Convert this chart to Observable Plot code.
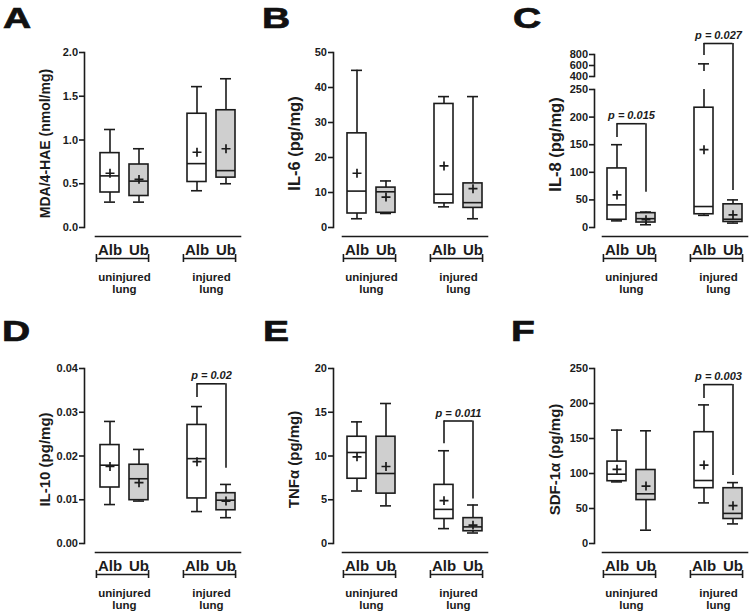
<!DOCTYPE html>
<html><head><meta charset="utf-8">
<script src="https://cdn.jsdelivr.net/npm/d3@7"></script>
<script src="https://cdn.jsdelivr.net/npm/@observablehq/plot@0.6"></script>
<style>
body{margin:0;background:#fff;}
#fig{position:relative;width:750px;height:613px;overflow:hidden;background:#fff;font-family:"Liberation Sans",Arial,sans-serif;}
.panel{position:absolute;}
.letter{position:absolute;font-weight:bold;font-size:30px;line-height:30px;color:#111;font-family:"Liberation Sans",Arial,sans-serif;transform:scaleX(1.3);transform-origin:left top;-webkit-text-stroke:0.7px #111;}
</style></head><body><div id="fig"></div>
<script>
// ---------- DATA ----------
const groupNames = ["uninjured", "injured"];
const treatmentNames = ["Alb", "Ub"];
const panelLetters = ["A", "B", "C", "D", "E", "F"];
const yLabels = ["MDA/4-HAE (nmol/mg)", "IL-6 (pg/mg)", "IL-8 (pg/mg)", "IL-10 (pg/mg)", "TNFα (pg/mg)", "SDF-1α (pg/mg)"];

// box statistics per box: [min, q1, median, q3, max, mean]
// box order: uninjured Alb, uninjured Ub, injured Alb, injured Ub
const mdaStats  = [[0.29, 0.40, 0.59, 0.85, 1.12, 0.62], [0.29, 0.36, 0.53, 0.72, 0.90, 0.55], [0.42, 0.52, 0.73, 1.30, 1.61, 0.86], [0.50, 0.57, 0.65, 1.34, 1.70, 0.90]];
const il6Stats  = [[2.5, 4.0, 10.4, 26.9, 44.9, 15.5], [4.0, 4.2, 10.2, 11.4, 13.3, 8.7], [5.9, 6.9, 9.5, 35.3, 37.4, 17.6], [2.5, 5.6, 7.1, 12.6, 37.4, 11.1]];
const il8Stats  = [[12, 14, 41, 107, 150, 59], [5, 9, 16, 26, 28, 14], [22, 24, 38, 217, 630, 141], [8, 10, 15, 42, 50, 23]];
const il10Stats = [[0.0089, 0.0128, 0.0179, 0.0225, 0.0279, 0.0176], [0.0097, 0.0099, 0.0148, 0.0180, 0.0215, 0.0139], [0.0073, 0.0103, 0.0194, 0.0271, 0.0313, 0.0187], [0.0059, 0.0076, 0.0099, 0.0115, 0.0135, 0.0097]];
const tnfStats  = [[6.0, 7.4, 10.4, 12.2, 13.9, 9.9], [4.3, 5.7, 8.0, 12.2, 16.0, 8.8], [1.7, 2.8, 3.9, 6.7, 10.6, 4.9], [1.2, 1.4, 1.9, 2.9, 4.4, 2.1]];
const sdfStats  = [[88, 89, 99, 117, 162, 106], [19, 62, 71, 105, 161, 82], [58, 79, 90, 159, 198, 112], [28, 35, 43, 79, 87, 54]];

// y-axis ticks
const mdaTicks  = [0, 0.5, 1.0, 1.5, 2.0];
const il6Ticks  = [0, 10, 20, 30, 40, 50];
const il8Ticks  = [0, 50, 100, 150, 200, 250, 400, 600, 800];
const il10Ticks = [0, 0.01, 0.02, 0.03, 0.04];
const tnfTicks  = [0, 5, 10, 15, 20];
const sdfTicks  = [0, 50, 100, 150, 200, 250];
const il8Breaks = [250, 400, 800]; // broken axis: lower segment ends at 250, upper runs 400–800

// significance brackets: bar level, Alb leg end, Ub leg end
const il8Pvalues  = [{group: "uninjured", p: "p = 0.015", top: 188, alb: 163, ub: 64}, {group: "injured", p: "p = 0.027", top: 1000, alb: 780, ub: 67}];
const il10Pvalues = [{group: "injured", p: "p = 0.02", top: 0.0365, alb: 0.0334, ub: 0.0172}];
const tnfPvalues  = [{group: "injured", p: "p = 0.011", top: 14.0, alb: 11.4, ub: 5.1}];
const sdfPvalues  = [{group: "injured", p: "p = 0.003", top: 227, alb: 207, ub: 97}];

// ---------- LAYOUT ----------
const INK = "#1b1b1b";
const UB_FILL = "#cfcfcf";
const FONT = "'Liberation Sans', Arial, Helvetica, sans-serif";
const PAD = 0.34;
const columns = [
  {left: 0, axis: 84, baseStart: 95, baseEnd: 240},
  {left: 250, axis: 333, baseStart: 342, baseEnd: 487},
  {left: 500, axis: 594, baseStart: 602, baseEnd: 747}
];
const rowTops = [0, 316];
const letterPos = [[3, 3], [262, 3], [513, 3], [2, 316], [263, 316], [511, 316]];

const boxKeys = groupNames.flatMap(g => treatmentNames.map(t => g + " " + t));
const slots = [boxKeys[0], boxKeys[1], "gap", boxKeys[2], boxKeys[3]];

function boxRows(stats) {
  return stats.map((s, i) => ({
    key: boxKeys[i], treatment: boxKeys[i].split(" ")[1],
    min: s[0], q1: s[1], median: s[2], q3: s[3], max: s[4], mean: s[5]
  }));
}
const groupRows = groupNames.map(g => ({group: g, first: g + " Alb", last: g + " Ub", label: g + "\nlung"}));

function panel(cfg) {
  const {stats, ticks, format, label, labelSize, pvals, breaks, col} = cfg;
  const c = columns[col];
  const W = 250, H = 300;
  const marginLeft = c.axis - c.left;
  const marginRight = c.left + W - c.baseEnd;
  const marginTop = breaks ? 54 : 52;
  const marginBottom = 64;
  const zeroY = 227;
  const baseY = H - marginBottom;
  const step = (c.baseEnd - c.baseStart) / slots.length;
  const bw = step * (1 - PAD);
  const rows = boxRows(stats);
  const y = breaks
    ? {type: "linear", domain: [0, breaks[0], breaks[1], breaks[2]], range: [zeroY, 89, 76, 54]}
    : {type: "linear", domain: [0, ticks[ticks.length - 1]], range: [zeroY, 52]};
  const line = {stroke: INK, strokeWidth: 1.6};
  const marks = [];
  if (breaks) {
    marks.push(Plot.frame({anchor: "left", insetTop: 89 - marginTop, insetBottom: baseY - zeroY, ...line}));
    marks.push(Plot.frame({anchor: "left", insetBottom: baseY - 76, ...line}));
  } else {
    marks.push(Plot.frame({anchor: "left", insetBottom: baseY - zeroY, ...line}));
  }
  marks.push(Plot.frame({anchor: "bottom", insetLeft: c.baseStart - c.axis, ...line}));
  marks.push(Plot.axisY({ticks, tickFormat: format, tickSize: 5, tickPadding: 1.5, fontSize: 11, fontWeight: "bold", color: INK, strokeWidth: 1.6, label: null}));
  marks.push(Plot.axisX({ticks: boxKeys, tickSize: 0, tickPadding: 8, tickFormat: k => k.split(" ")[1], fontSize: 15, fontWeight: "bold", color: INK, label: null}));
  // y label
  marks.push(Plot.text([label], {text: d => d, frameAnchor: "left", textAnchor: "middle", lineAnchor: "middle", rotate: -90, dx: -39, dy: -1, fontSize: labelSize, fontWeight: "bold", fill: INK}));
  // whiskers
  const cut = breaks ? breaks[0] : Infinity;
  marks.push(Plot.ruleX(rows, {x: "key", y1: "min", y2: "q1", ...line}));
  marks.push(Plot.ruleX(rows, {x: "key", y1: r => Math.min(r.max, cut), y2: "q3", ...line}));
  if (breaks) {
    marks.push(Plot.ruleX(rows.filter(r => r.max > cut), {x: "key", y1: "max", y2: () => breaks[1], insetBottom: 5, ...line}));
  }
  // boxes
  marks.push(Plot.barY(rows.filter(r => r.treatment === "Alb"), {x: "key", y1: "q1", y2: "q3", fill: "white", ...line}));
  marks.push(Plot.barY(rows.filter(r => r.treatment === "Ub"), {x: "key", y1: "q1", y2: "q3", fill: UB_FILL, ...line}));
  marks.push(Plot.tickY(rows, {x: "key", y: "median", ...line}));
  marks.push(Plot.tickY(rows, {x: "key", y: "max", insetLeft: 4, insetRight: 4, ...line}));
  marks.push(Plot.tickY(rows, {x: "key", y: "min", insetLeft: 4, insetRight: 4, ...line}));
  marks.push(Plot.dot(rows, {x: "key", y: "mean", symbol: "plus", r: 3, stroke: INK, strokeWidth: 1.7}));
  // group brackets below axis
  marks.push(Plot.ruleY(groupRows, {x1: "first", x2: "last", y: () => 0, dy: 31, insetLeft: -4, ...line}));
  marks.push(Plot.ruleX(groupRows, {x: "first", y1: () => 0, y2: () => 0, dy: 31, dx: -(bw / 2 + 4), insetTop: 4, insetBottom: 4, ...line}));
  marks.push(Plot.ruleX(groupRows, {x: "last", y1: () => 0, y2: () => 0, dy: 31, dx: bw / 2, insetTop: 4, insetBottom: 4, ...line}));
  marks.push(Plot.text(groupRows, {x: "first", y: () => 0, text: "label", dx: step / 2, dy: 55.5, fontSize: 11.5, fontWeight: "bold", lineHeight: 1.1, fill: INK}));
  // significance brackets
  if (pvals) {
    marks.push(Plot.ruleY(pvals, {x1: d => d.group + " Alb", x2: d => d.group + " Ub", y: "top", insetLeft: bw / 2, insetRight: bw / 2, ...line}));
    marks.push(Plot.ruleX(pvals, {x: d => d.group + " Alb", y1: "top", y2: "alb", ...line}));
    marks.push(Plot.ruleX(pvals, {x: d => d.group + " Ub", y1: "top", y2: "ub", ...line}));
    marks.push(Plot.text(pvals, {x: d => d.group + " Alb", y: "top", text: "p", dx: step / 2, dy: -8, fontSize: 11, fontWeight: "bold", fontStyle: "italic", fill: INK}));
  }
  return Plot.plot({
    width: W, height: H, marginLeft, marginRight, marginTop, marginBottom,
    style: {fontFamily: FONT, background: "transparent", color: INK, overflow: "visible"},
    x: {type: "band", domain: slots, paddingInner: PAD, paddingOuter: PAD / 2, align: 0.5, insetLeft: c.baseStart - c.axis},
    y,
    marks
  });
}

const panels = [
  {stats: mdaStats, ticks: mdaTicks, format: d3.format(".1f"), label: yLabels[0], labelSize: 14, col: 0, row: 0},
  {stats: il6Stats, ticks: il6Ticks, format: d3.format("d"), label: yLabels[1], labelSize: 16.5, col: 1, row: 0},
  {stats: il8Stats, ticks: il8Ticks, format: d3.format("d"), label: yLabels[2], labelSize: 16.5, col: 2, row: 0, pvals: il8Pvalues, breaks: il8Breaks},
  {stats: il10Stats, ticks: il10Ticks, format: d3.format(".2f"), label: yLabels[3], labelSize: 15, col: 0, row: 1, pvals: il10Pvalues},
  {stats: tnfStats, ticks: tnfTicks, format: d3.format("d"), label: yLabels[4], labelSize: 15, col: 1, row: 1, pvals: tnfPvalues},
  {stats: sdfStats, ticks: sdfTicks, format: d3.format("d"), label: yLabels[5], labelSize: 15, col: 2, row: 1, pvals: sdfPvalues}
];

const fig = document.getElementById("fig");
panels.forEach((p, i) => {
  const wrap = document.createElement("div");
  wrap.className = "panel";
  wrap.style.left = columns[p.col].left + "px";
  wrap.style.top = rowTops[p.row] + "px";
  wrap.appendChild(panel(p));
  fig.appendChild(wrap);
  const letter = document.createElement("div");
  letter.className = "letter";
  letter.textContent = panelLetters[i];
  letter.style.left = letterPos[i][0] + "px";
  letter.style.top = letterPos[i][1] + "px";
  fig.appendChild(letter);
});
</script></body></html>
